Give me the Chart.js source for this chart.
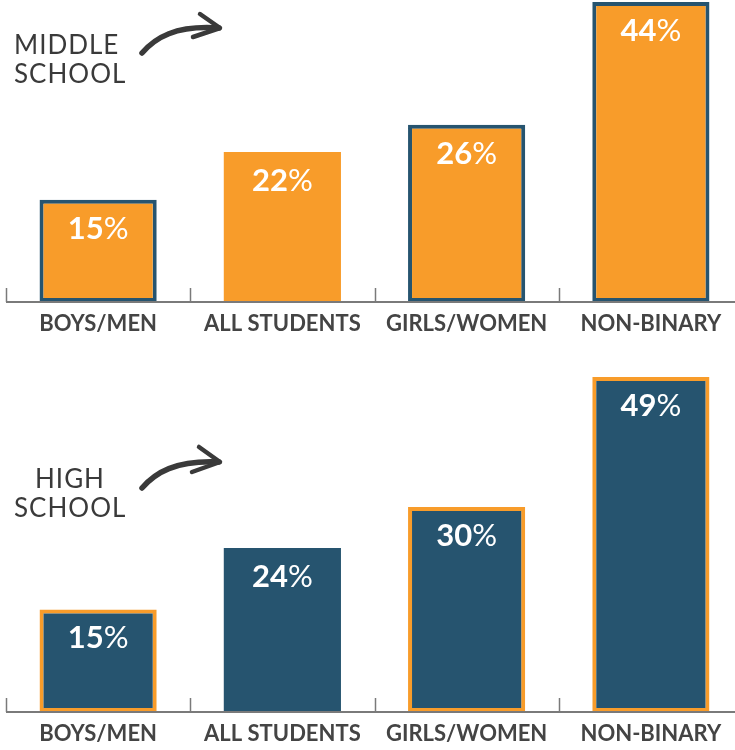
<!DOCTYPE html>
<html>
<head>
<meta charset="utf-8">
<script src="https://cdn.jsdelivr.net/npm/chart.js@4"></script>
<style>
  html, body { margin: 0; padding: 0; background: #fff; overflow: hidden; }
  body { width: 735px; height: 750px; position: relative; }
  .chart-box { position: absolute; left: 0; width: 743px; }
  #top-box { top: 0; height: 340px; }
  #bottom-box { top: 375px; height: 375px; }
  .hand {
    position: absolute; font-family: Lato, sans-serif; font-weight: 400;
    font-size: 26px; line-height: 29px; color: #3a3a3a; letter-spacing: 1px;
  }
  svg.arrow { position: absolute; left: 0; width: 240px; height: 70px; overflow: visible; }
</style>
</head>
<body>
<div class="chart-box" id="top-box"><canvas id="middle-chart"></canvas></div>
<div class="chart-box" id="bottom-box"><canvas id="high-chart"></canvas></div>

<div class="hand" style="left:14px;top:30px;">MIDDLE<br>SCHOOL</div>
<div class="hand" style="left:14px;top:464px;"><span style="padding-left:21px">HIGH</span><br>SCHOOL</div>

<svg class="arrow" style="top:0px" viewBox="0 0 240 70">
  <path d="M142 53 C 155 38, 175 25, 219 28" fill="none" stroke="#3a3a3a" stroke-width="5.5" stroke-linecap="round"/>
  <path d="M200 14 L 220 28 L 193 37" fill="none" stroke="#3a3a3a" stroke-width="4.5" stroke-linecap="round" stroke-linejoin="round"/>
</svg>
<svg class="arrow" style="top:434px" viewBox="0 0 240 70">
  <path d="M142 54 C 155 39, 175 26, 219 28" fill="none" stroke="#3a3a3a" stroke-width="5.5" stroke-linecap="round"/>
  <path d="M199 13 L 220 28 L 192 38" fill="none" stroke="#3a3a3a" stroke-width="4.5" stroke-linecap="round" stroke-linejoin="round"/>
</svg>

<script>
const categories = ['BOYS/MEN', 'ALL STUDENTS', 'GIRLS/WOMEN', 'NON-BINARY'];
const middleSchool = [15, 22, 26, 44];
const highSchool = [15, 24, 30, 49];
const outlined = [true, false, true, true];

const ORANGE = '#F89C2A';
const BLUE = '#26546F';
const AXIS = '#7a7a7a';

// short upward ticks at category boundaries, the base line and the value labels
const decor = {
    id: 'decor',
    afterDatasetsDraw(chart) {
        const ctx = chart.ctx;
        const x = chart.scales.x;
        const area = chart.chartArea;
        ctx.save();
        ctx.strokeStyle = AXIS;
        ctx.lineWidth = 1.5;
        for (let i = 0; i <= categories.length; i++) {
            const px = Math.round(x.getPixelForValue(i - 0.5)) + 0.5;
            ctx.beginPath();
            ctx.moveTo(px, area.bottom);
            ctx.lineTo(px, area.bottom - 14);
            ctx.stroke();
        }
        ctx.lineWidth = 2;
        ctx.beginPath();
        ctx.moveTo(x.getPixelForValue(-0.5), area.bottom);
        ctx.lineTo(x.getPixelForValue(categories.length - 0.5), area.bottom);
        ctx.stroke();

        const meta = chart.getDatasetMeta(0);
        const values = chart.data.datasets[0].data;
        ctx.fillStyle = '#ffffff';
        ctx.textBaseline = 'middle';
        ctx.textAlign = 'left';
        meta.data.forEach((bar, i) => {
            const num = String(values[i]);
            ctx.font = 'bold 31px Lato, sans-serif';
            const wNum = ctx.measureText(num).width;
            ctx.font = '31px Lato, sans-serif';
            const wPct = ctx.measureText('%').width;
            const left = bar.x - (wNum + wPct) / 2;
            const y = bar.y + 29;
            ctx.font = 'bold 31px Lato, sans-serif';
            ctx.fillText(num, left, y);
            ctx.font = '31px Lato, sans-serif';
            ctx.fillText('%', left + wNum, y);
        });
        ctx.restore();
    }
};

function makeChart(id, values, fill, edge) {
    return new Chart(document.getElementById(id), {
        type: 'bar',
        data: {
            labels: categories,
            datasets: [{
                data: values,
                backgroundColor: fill,
                borderColor: edge,
                borderWidth: outlined.map(o => o ? 4 : 0),
                borderSkipped: false,
                barPercentage: 0.636,
                categoryPercentage: 1
            }]
        },
        options: {
            responsive: true,
            maintainAspectRatio: false,
            animation: false,
            layout: { padding: { left: 6, right: 0, top: 2, bottom: 0 } },
            plugins: { legend: { display: false }, tooltip: { enabled: false } },
            scales: {
                x: {
                    grid: { display: false, drawTicks: false },
                    border: { display: false },
                    ticks: {
                        color: '#444',
                        padding: 9,
                        font: { family: 'Lato, sans-serif', size: 22, weight: 'bold' }
                    },
                    afterFit: s => { s.height = 38; }
                },
                y: {
                    display: false,
                    min: 0,
                    max: Math.max(...values)
                }
            }
        },
        plugins: [decor]
    });
}

makeChart('middle-chart', middleSchool, ORANGE, BLUE);
makeChart('high-chart', highSchool, BLUE, ORANGE);
</script>
</body>
</html>
